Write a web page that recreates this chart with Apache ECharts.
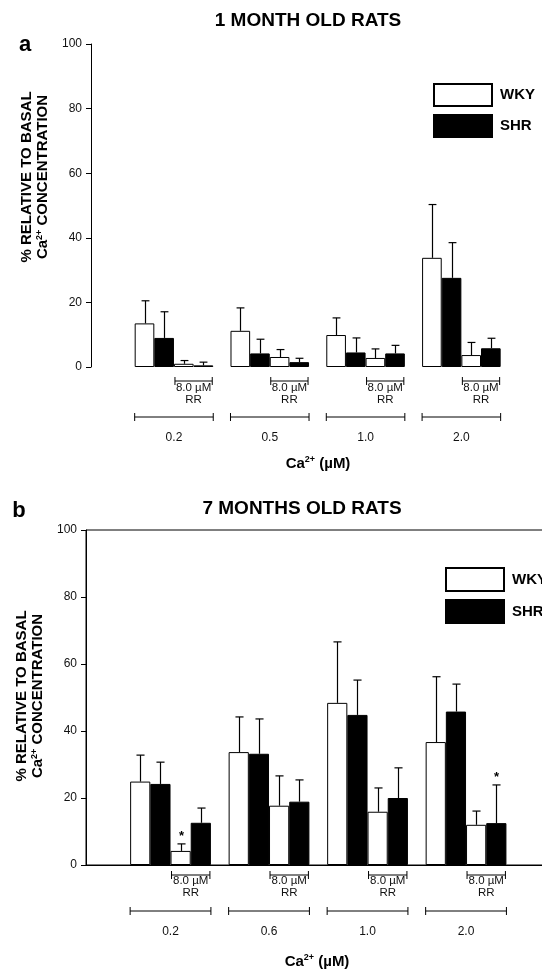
<!DOCTYPE html>
<html>
<head>
<meta charset="utf-8">
<script src="https://cdn.jsdelivr.net/npm/echarts@6/dist/echarts.min.js"></script>
<style>
  html, body { margin: 0; padding: 0; background: #fff; }
  #chart { width: 542px; height: 972px; }
</style>
</head>
<body>
<div id="chart"></div>
<script>
// Ca2+ concentrations (µM) labelling the bar groups of each panel
const concA = ['0.2', '0.5', '1.0', '2.0'];
const concB = ['0.2', '0.6', '1.0', '2.0'];
const yTicks = [0, 20, 40, 60, 80, 100];
const rrText = ['8.0 µM', 'RR'];

// Panel a: 1 month old rats, % relative to basal Ca2+ (mean and upper error)
const wkyA = [13.5, 11.2, 9.9, 33.8];
const wkyErrA = [7.0, 7.1, 5.3, 16.5];
const shrA = [9.0, 4.2, 4.5, 27.6];
const shrErrA = [8.1, 4.4, 4.5, 10.9];
const wkyRrA = [1.0, 3.1, 2.8, 3.7];
const wkyRrErrA = [1.0, 2.3, 2.8, 3.9];
const shrRrA = [0.5, 1.5, 4.2, 5.8];
const shrRrErrA = [1.0, 1.2, 2.5, 3.1];
const starsA = [];

// Panel b: 7 months old rats
const wkyB = [24.9, 33.7, 48.4, 36.7];
const wkyErrB = [7.9, 10.5, 18.2, 19.5];
const shrB = [24.2, 33.2, 44.8, 45.8];
const shrErrB = [6.5, 10.4, 10.4, 8.2];
const wkyRrB = [4.2, 17.7, 15.9, 12.0];
const wkyRrErrB = [2.1, 8.9, 7.1, 4.1];
const shrRrB = [12.6, 18.9, 20.0, 12.5];
const shrRrErrB = [4.4, 6.5, 9.0, 11.4];
// significant differences, as [group, bar slot]
const starsB = [[0, 2], [3, 3]];

const FONT = '"Liberation Sans", Arial, Helvetica, sans-serif';
const BAR_FRAC = 0.205;          // bar width as a share of one group step
const whiteBar = { color: '#fff', borderColor: '#000', borderWidth: 1 };
const blackBar = { color: '#000', borderColor: '#000', borderWidth: 1 };

function barSeries(name, values, style, idx) {
  return {
    type: 'bar', name: name, xAxisIndex: idx, yAxisIndex: idx,
    data: values.map((v, i) => [i, v]),
    barWidth: (BAR_FRAC * 100) + '%', barGap: '0%',
    itemStyle: style, emphasis: { disabled: true }, z: 2
  };
}

// upward error bars with caps, plus optional significance stars
function errorSeries(sets, stars, idx) {
  const rows = [];
  sets.forEach(([vals, errs], slot) => vals.forEach((v, g) => {
    const star = stars.some(s => s[0] === g && s[1] === slot) ? 1 : 0;
    rows.push([g, v + errs[g], v, slot, star]);
  }));
  return {
    type: 'custom', xAxisIndex: idx, yAxisIndex: idx,
    data: rows, encode: { x: 0, y: 1 }, clip: false, silent: true, z: 3,
    renderItem(params, api) {
      const g = api.value(0), top = api.value(1), mean = api.value(2), slot = api.value(3);
      const bw = BAR_FRAC * api.size([1, 0])[0];
      const base = api.coord([g, mean]);
      const tip = api.coord([g, top]);
      const x = Math.round(base[0] + (slot - 1.5) * bw) + 0.5;
      const cap = bw * 0.2;
      const st = { stroke: '#000', lineWidth: 1.2 };
      const children = [
        { type: 'line', shape: { x1: x, y1: base[1], x2: x, y2: tip[1] }, style: st },
        { type: 'line', shape: { x1: x - cap, y1: tip[1], x2: x + cap, y2: tip[1] }, style: st }
      ];
      if (api.value(4)) {
        children.push({ type: 'text', x: x, y: tip[1] - 1,
          style: { text: '*', font: 'bold 13px ' + FONT, fill: '#000', align: 'center', verticalAlign: 'bottom' } });
      }
      return { type: 'group', children: children };
    }
  };
}

// brackets and labels under each group: "8.0 µM RR" under the last two bars, concentration under the group
function annotationSeries(labels, idx, o) {
  return {
    type: 'custom', xAxisIndex: idx, yAxisIndex: idx,
    data: labels.map((_, i) => [i, 0]), encode: { x: 0, y: 1 }, clip: false, silent: true,
    renderItem(params, api) {
      const g = api.value(0);
      const bw = BAR_FRAC * api.size([1, 0])[0];
      const p = api.coord([g, 0]);
      const cx = p[0], y0 = p[1];
      const l = cx - 2 * bw, r = cx + 2 * bw;
      const st = { stroke: '#000', lineWidth: 1 };
      const line = (x1, y1, x2, y2) => ({ type: 'line', shape: { x1, y1, x2, y2 }, style: st });
      const text = (t, x, y, font) => ({ type: 'text', x: x, y: y,
        style: { text: t, font: font, fill: '#111', align: 'center', verticalAlign: 'middle' } });
      const rrY = y0 + o.rr, gY = y0 + o.grp;
      return { type: 'group', children: [
        line(cx + 1, rrY, r - 1, rrY),
        line(cx + 1, rrY - 4, cx + 1, rrY + 4),
        line(r - 1, rrY - 4, r - 1, rrY + 4),
        text(rrText[0], cx + bw, y0 + o.rrText, '11.5px ' + FONT),
        text(rrText[1], cx + bw, y0 + o.rrName, '11.5px ' + FONT),
        line(l, gY, r, gY),
        line(l, gY - 4, l, gY + 4),
        line(r, gY - 4, r, gY + 4),
        text(labels[g], cx, y0 + o.label, '12px ' + FONT)
      ] };
    }
  };
}

const nameRich = {
  b: { fontFamily: FONT, fontWeight: 'bold', fontSize: 15, color: '#000', lineHeight: 17 },
  s: { fontFamily: FONT, fontWeight: 'bold', fontSize: 9, color: '#000', verticalAlign: 'top', lineHeight: 10 }
};

function xAxisFor(idx, min, max, showLine) {
  return {
    gridIndex: idx, type: 'value', min: min, max: max,
    axisLine: { show: showLine, onZero: false, lineStyle: { color: '#000', width: 1 } },
    axisTick: { show: false }, axisLabel: { show: false }, splitLine: { show: false },
    name: '{b|Ca}{s|2+}{b| (µM)}', nameLocation: 'middle', nameGap: 88,
    nameTextStyle: { rich: nameRich }
  };
}

function yAxisFor(idx) {
  return {
    gridIndex: idx, type: 'value',
    min: yTicks[0], max: yTicks[yTicks.length - 1], interval: yTicks[1] - yTicks[0],
    axisLine: { show: true, onZero: false, lineStyle: { color: '#000', width: 1 } },
    axisTick: { show: true, length: 5, lineStyle: { color: '#000' } },
    axisLabel: { margin: 9, fontSize: 12, fontFamily: FONT, color: '#111' },
    splitLine: { show: false }
  };
}

const legendBase = {
  data: ['WKY', 'SHR'], orient: 'vertical', icon: 'rect', padding: 0,
  itemWidth: 58, itemGap: 7, selectedMode: false,
  textStyle: { fontFamily: FONT, fontWeight: 'bold', fontSize: 15, color: '#000', padding: [0, 0, 0, 3] }
};

const yNameText = '{t|% RELATIVE TO BASAL}\n{t|Ca}{s|2+}{t| CONCENTRATION}';
const yNameRich = {
  t: { font: 'bold 15px ' + FONT, fill: '#000', lineHeight: 16 },
  s: { font: 'bold 9px ' + FONT, fill: '#000', verticalAlign: 'top' }
};
function textEl(t, x, y, font, extra) {
  return Object.assign({ type: 'text', x: x, y: y,
    style: { text: t, font: font, fill: '#000', align: 'center', verticalAlign: 'middle' } }, extra || {});
}

const chart = echarts.init(document.getElementById('chart'), null, { renderer: 'canvas' });
chart.setOption({
  animation: false,
  backgroundColor: '#fff',
  grid: [
    { left: 91, top: 44, width: 454, height: 323, outerBoundsMode: 'none', containLabel: false },
    { left: 86, top: 530, width: 462, height: 335, outerBoundsMode: 'none', containLabel: false,
      show: true, borderColor: '#000', borderWidth: 1 }
  ],
  xAxis: [xAxisFor(0, -0.866, 3.873, false), xAxisFor(1, -0.858, 3.832, true)],
  yAxis: [yAxisFor(0), yAxisFor(1)],
  legend: [
    Object.assign({}, legendBase, { left: 433, top: 83, itemHeight: 22 }),
    Object.assign({}, legendBase, { left: 445, top: 567, itemHeight: 23 })
  ],
  graphic: [
    textEl('1 MONTH OLD RATS', 308, 21, 'bold 19px ' + FONT),
    textEl('7 MONTHS OLD RATS', 302, 509, 'bold 19px ' + FONT),
    textEl('a', 25, 45, 'bold 22px ' + FONT),
    textEl('b', 19, 511, 'bold 22px ' + FONT),
    { type: 'text', x: 35, y: 177, rotation: Math.PI / 2,
      style: { text: yNameText, rich: yNameRich, align: 'center', verticalAlign: 'middle' } },
    { type: 'text', x: 30, y: 696, rotation: Math.PI / 2,
      style: { text: yNameText, rich: yNameRich, align: 'center', verticalAlign: 'middle' } }
  ],
  series: [
    barSeries('WKY', wkyA, whiteBar, 0),
    barSeries('SHR', shrA, blackBar, 0),
    barSeries('WKY', wkyRrA, whiteBar, 0),
    barSeries('SHR', shrRrA, blackBar, 0),
    errorSeries([[wkyA, wkyErrA], [shrA, shrErrA], [wkyRrA, wkyRrErrA], [shrRrA, shrRrErrA]], starsA, 0),
    annotationSeries(concA, 0, { rr: 14, rrText: 21, rrName: 33, grp: 50, label: 71 }),

    barSeries('WKY', wkyB, whiteBar, 1),
    barSeries('SHR', shrB, blackBar, 1),
    barSeries('WKY', wkyRrB, whiteBar, 1),
    barSeries('SHR', shrRrB, blackBar, 1),
    errorSeries([[wkyB, wkyErrB], [shrB, shrErrB], [wkyRrB, wkyRrErrB], [shrRrB, shrRrErrB]], starsB, 1),
    annotationSeries(concB, 1, { rr: 10, rrText: 16, rrName: 28, grp: 46, label: 67 })
  ]
});
</script>
</body>
</html>
